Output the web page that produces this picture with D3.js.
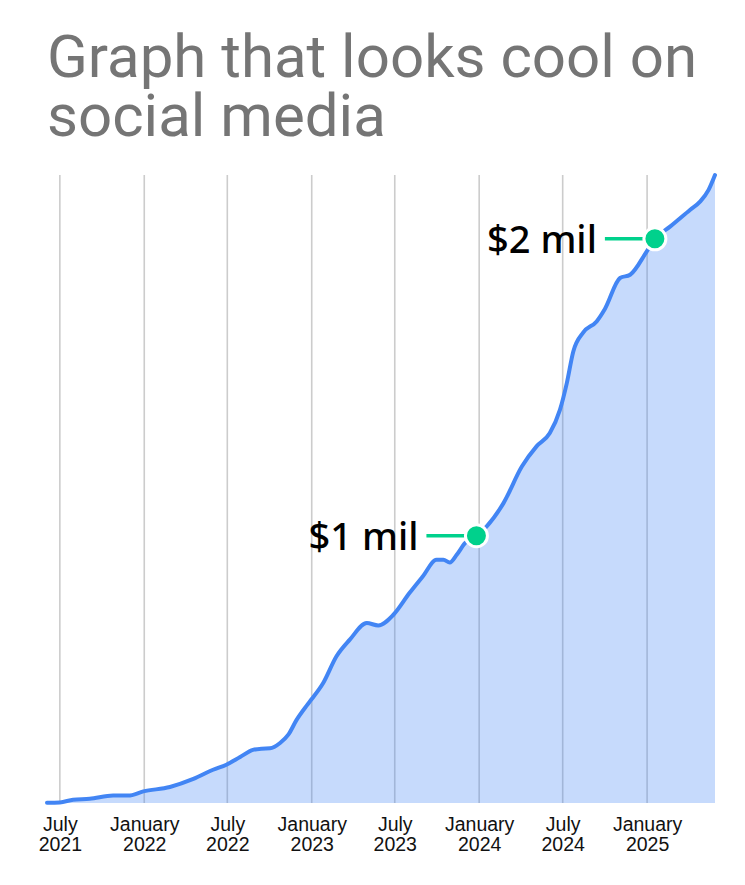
<!DOCTYPE html>
<html>
<head>
<meta charset="utf-8">
<script src="https://cdn.jsdelivr.net/npm/d3@7"></script>
<style>
  html, body { margin: 0; padding: 0; background: #fff; }
  svg { display: block; }
</style>
</head>
<body>
<div id="chart"></div>
<script>
// ---- data ----
const title = ["Graph that looks cool on", "social media"];

const dates = [
  "2021-06-03","2021-07-01","2021-07-30","2021-09-04","2021-10-25","2021-11-27","2021-12-30",
  "2022-02-26","2022-04-18","2022-05-31","2022-06-29","2022-07-29","2022-08-26","2022-09-14",
  "2022-10-02","2022-10-24","2022-11-11","2022-11-29","2022-12-21","2023-01-01","2023-01-26",
  "2023-02-24","2023-03-25","2023-05-01","2023-05-26","2023-06-28","2023-08-02","2023-08-31",
  "2023-09-30","2023-10-15","2023-10-29","2023-11-13","2023-12-01","2023-12-26","2024-01-17",
  "2024-02-23","2024-04-03","2024-05-05","2024-06-03","2024-06-25","2024-07-10","2024-07-24",
  "2024-08-15","2024-09-13","2024-10-01","2024-11-03","2024-11-25","2024-12-31","2025-01-18",
  "2025-02-20","2025-04-05","2025-04-27","2025-05-15","2025-05-29"
];
// cumulative revenue, $ millions
const values = [
  0.101,0.102,0.111,0.114,0.125,0.125,0.139,
  0.154,0.181,0.212,0.229,0.255,0.279,0.283,
  0.284,0.302,0.330,0.380,0.428,0.450,0.504,
  0.594,0.650,0.706,0.698,0.734,0.807,0.863,
  0.919,0.919,0.910,0.936,0.975,1.000,1.031,
  1.110,1.233,1.301,1.346,1.424,1.514,1.620,
  1.685,1.722,1.764,1.868,1.879,1.957,2.000,
  2.041,2.098,2.126,2.165,2.215
];

const tickDates  = ["2021-07-01","2022-01-01","2022-07-01","2023-01-01","2023-07-01","2024-01-01","2024-07-01","2025-01-01"];
const tickMonths = ["July","January","July","January","July","January","July","January"];
const tickYears  = ["2021","2022","2022","2023","2023","2024","2024","2025"];

const annotDates  = ["2023-12-26","2025-01-18"];
const annotValues = [1.0, 2.0];
const annotLabels = ["$1 mil", "$2 mil"];

const yDomain = [0.1, 2.215];

// ---- layout ----
const W = 745, H = 885;
const plot = { left: 47, right: 715, top: 175, bottom: 803 };

const parse = d3.timeParse("%Y-%m-%d");
const data = dates.map((d, i) => ({ date: parse(d), value: values[i] }));

const svg = d3.select("#chart").append("svg")
  .attr("width", W).attr("height", H);

const x = d3.scaleTime()
  .domain([parse(dates[0]), parse(dates[dates.length - 1])])
  .range([plot.left, plot.right]);
const y = d3.scaleLinear()
  .domain(yDomain)
  .range([plot.bottom, plot.top]);

// title
svg.append("text")
  .attr("x", 47).attr("y", 77)
  .attr("font-family", "Roboto, sans-serif")
  .attr("font-size", 60)
  .attr("fill", "#757575")
  .selectAll("tspan").data(title).join("tspan")
  .attr("x", 47)
  .attr("dy", (d, i) => i === 0 ? 0 : 59)
  .text(d => d);

// gridlines
svg.append("g").selectAll("line").data(tickDates).join("line")
  .attr("x1", d => x(parse(d))).attr("x2", d => x(parse(d)))
  .attr("y1", plot.top).attr("y2", plot.bottom)
  .attr("stroke", "#cccccc").attr("stroke-width", 1.6);

// area
const area = d3.area()
  .x(d => x(d.date)).y0(plot.bottom).y1(d => y(d.value))
  .curve(d3.curveMonotoneX);
svg.append("path").datum(data)
  .attr("d", area)
  .attr("fill", "#4285F4").attr("fill-opacity", 0.3);

// line
const line = d3.line()
  .x(d => x(d.date)).y(d => y(d.value))
  .curve(d3.curveMonotoneX);
svg.append("path").datum(data)
  .attr("d", line)
  .attr("fill", "none")
  .attr("stroke", "#4285F4")
  .attr("stroke-width", 4)
  .attr("stroke-linejoin", "round")
  .attr("stroke-linecap", "round");

// x axis
const xAxis = d3.axisBottom(x)
  .tickValues(tickDates.map(parse))
  .tickSize(0)
  .tickFormat("");
const gx = svg.append("g")
  .attr("transform", `translate(0,${plot.bottom})`)
  .call(xAxis);
gx.select(".domain").remove();
gx.selectAll(".tick text").remove();
gx.selectAll(".tick").each(function(d, i) {
  const t = d3.select(this).append("text")
    .attr("text-anchor", "middle")
    .attr("font-family", "'Liberation Sans', Arial, sans-serif")
    .attr("font-size", 19.5)
    .attr("fill", "#111");
  t.append("tspan").attr("x", 0).attr("y", 28).text(tickMonths[i]);
  t.append("tspan").attr("x", 0).attr("y", 47.5).text(tickYears[i]);
});

// annotations
const ann = svg.append("g");
annotDates.forEach((d, i) => {
  const cx = x(parse(d)), cy = y(annotValues[i]);
  ann.append("line")
    .attr("x1", cx - 50).attr("x2", cx)
    .attr("y1", cy).attr("y2", cy)
    .attr("stroke", "#00D18C").attr("stroke-width", 3.5);
  ann.append("circle")
    .attr("cx", cx).attr("cy", cy).attr("r", 11)
    .attr("fill", "#00D18C")
    .attr("stroke", "#fff").attr("stroke-width", 3);
  ann.append("text")
    .attr("x", cx - 58).attr("y", cy + 14.5)
    .attr("text-anchor", "end")
    .attr("font-family", "'Noto Sans', sans-serif")
    .attr("font-weight", 500)
    .attr("font-size", 38)
    .attr("fill", "#000")
    .text(annotLabels[i]);
});
</script>
</body>
</html>
